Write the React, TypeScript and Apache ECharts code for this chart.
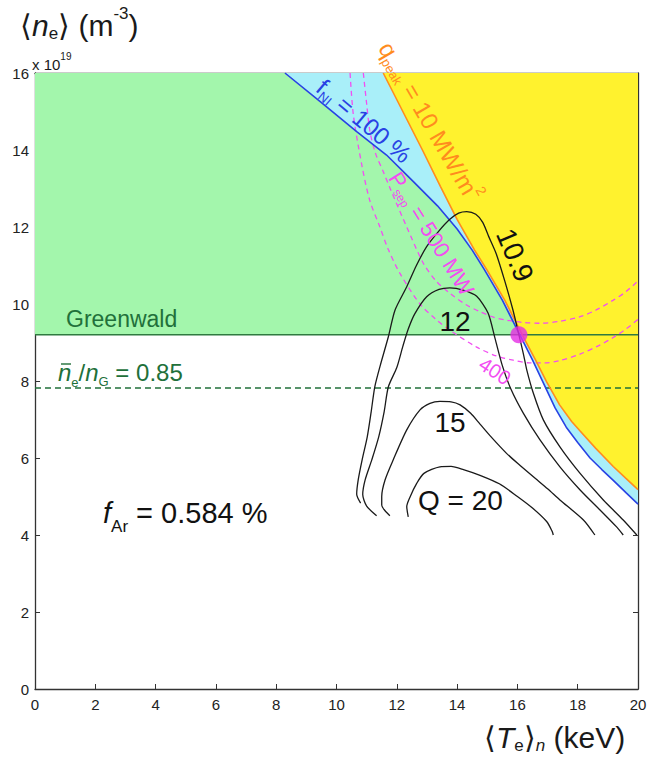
import React, { useEffect, useRef } from "react";
import * as echarts from "echarts";

const FONT = "'Liberation Sans', Arial, Helvetica, sans-serif";

// axes
const xMin = 0;
const xMax = 20;
const yMin = 0;
const yMax = 16;
const tickStep = 2;

// horizontal density limits (10^19 m^-3)
const greenwaldDensity = 9.2;
const density085 = 7.82;
const operatingPoint: [number, number] = [16.05, 9.2];

// f_NI = 100 % boundary
const fNI100: [number, number][] = [
  [8.29, 16.0], [9.45, 15.26], [10.67, 14.48], [11.66, 13.87], [12.55, 13.18],
  [13.35, 12.55], [14.0, 11.95], [14.5, 11.4], [14.9, 10.9], [15.5, 10.1],
  [16.08, 9.2], [16.5, 8.55], [16.86, 7.95], [17.25, 7.3], [17.62, 6.8],
  [18.0, 6.4], [18.41, 6.0], [18.8, 5.7], [19.18, 5.42], [19.6, 5.1], [20.0, 4.8],
];

// q_peak = 10 MW/m^2 boundary
const qPeak10: [number, number][] = [
  [11.55, 16.0], [12.2, 15.0], [12.85, 14.0], [13.45, 13.05], [14.0, 12.2],
  [14.58, 11.4], [14.98, 10.9], [15.58, 10.1], [16.16, 9.2], [16.6, 8.55],
  [16.97, 7.98], [17.4, 7.38], [17.8, 6.95], [18.08, 6.7], [18.6, 6.25],
  [19.18, 5.78], [19.6, 5.47], [20.0, 5.18],
];

// P_sep contours (MW)
const pSep500: [number, number][] = [
  [10.89, 16.0], [11.0, 15.2], [11.11, 14.48], [11.3, 13.9], [11.55, 13.44],
  [11.8, 12.96], [12.33, 12.0], [12.88, 11.06], [13.3, 10.6], [13.76, 10.28],
  [14.3, 9.98], [14.76, 9.8], [15.2, 9.66], [15.64, 9.58], [16.2, 9.52],
  [16.75, 9.5], [17.4, 9.55], [18.08, 9.67], [18.6, 9.84], [19.18, 10.1],
  [19.6, 10.32], [20.0, 10.6],
];
const pSep400: [number, number][] = [
  [10.45, 16.0], [10.56, 14.91], [10.84, 13.61], [11.1, 12.7], [11.44, 12.0],
  [11.7, 11.45], [12.1, 10.8], [12.77, 10.0], [13.3, 9.6], [13.76, 9.32],
  [14.65, 8.88], [15.3, 8.65], [15.86, 8.54], [16.4, 8.47], [16.9, 8.47],
  [17.4, 8.53], [18.08, 8.7], [18.7, 8.92], [19.18, 9.13], [19.6, 9.35], [20.0, 9.6],
];

// Q contours
const q109: [number, number][] = [
  [10.8, 4.83], [10.67, 5.06], [10.72, 5.43], [10.85, 5.95], [11.02, 6.55],
  [11.15, 7.2], [11.27, 7.85], [11.45, 8.4], [11.72, 9.15], [11.94, 9.84],
  [12.33, 10.45], [12.65, 11.0], [12.99, 11.49], [13.4, 11.9], [13.76, 12.2],
  [14.05, 12.36], [14.32, 12.4], [14.62, 12.33], [14.85, 12.12], [15.05, 11.75],
  [15.3, 11.3], [15.58, 10.6], [15.85, 9.85], [16.05, 9.2], [16.2, 8.7],
  [16.31, 8.29], [16.53, 7.68], [16.86, 6.99], [17.41, 6.29], [18.08, 5.6],
  [18.85, 4.91], [19.51, 4.39], [19.96, 4.0],
];
const q12: [number, number][] = [
  [11.33, 4.5], [11.0, 4.75], [10.87, 5.05], [10.95, 5.43], [11.17, 5.95],
  [11.4, 6.55], [11.58, 7.2], [11.72, 7.85], [12.0, 8.35], [12.2, 8.9],
  [12.38, 9.35], [12.6, 9.75], [12.99, 10.19], [13.4, 10.38], [13.76, 10.42],
  [14.2, 10.36], [14.65, 10.2], [15.03, 9.76], [15.26, 9.1], [15.5, 8.4],
  [15.78, 7.8], [16.2, 7.16], [16.75, 6.47], [17.41, 5.77], [18.08, 5.17],
  [18.74, 4.65], [19.29, 4.21], [19.51, 4.0],
];
const q15: [number, number][] = [
  [11.77, 4.5], [11.5, 4.78], [11.5, 5.0], [11.61, 5.43], [11.88, 5.95],
  [12.33, 6.73], [12.77, 7.25], [13.1, 7.42], [13.43, 7.47], [13.8, 7.46],
  [14.1, 7.38], [14.45, 7.16], [14.76, 6.88], [15.09, 6.58], [15.64, 6.12],
  [16.1, 5.8], [16.53, 5.51], [17.0, 5.2], [17.41, 4.91], [18.19, 4.39], [18.57, 4.0],
];
const q20: [number, number][] = [
  [12.38, 4.47], [12.33, 4.74], [12.44, 4.99], [12.66, 5.34], [12.9, 5.6],
  [13.43, 5.77], [13.8, 5.78], [14.21, 5.7], [14.76, 5.55], [15.4, 5.33],
  [16.0, 5.0], [16.5, 4.7], [16.97, 4.35], [17.15, 4.1], [17.19, 4.0],
];

const COL = {
  green: "#a3f6ac",
  cyan: "#a9eff9",
  yellow: "#fff22e",
  blue: "#2842e4",
  orange: "#ff8c1e",
  magenta: "#f24ef2",
  dot: "#e52de5",
  gwLine: "#2f7a40",
  gwText: "#21703a",
  black: "#1a1a1a",
  axis: "#333333",
};

let measureCtx: CanvasRenderingContext2D | null = null;
function textWidth(t: string, size: number, italic: boolean): number {
  if (!measureCtx) measureCtx = document.createElement("canvas").getContext("2d");
  if (!measureCtx) return t.length * size * 0.55;
  measureCtx.font = `${italic ? "italic " : ""}${size}px ${FONT}`;
  return measureCtx.measureText(t).width;
}

type Piece = { t: string; s: number; i?: boolean; dy?: number; dx?: number };

function runLabel(x: number, y: number, rotDeg: number, pieces: Piece[], color: string) {
  let cx = 0;
  const children = pieces.map((p) => {
    cx += p.dx ?? 0;
    const el = {
      type: "text",
      x: cx,
      y: p.dy ?? 0,
      z: 100,
      silent: true,
      style: {
        text: p.t,
        fill: color,
        fontSize: p.s,
        fontFamily: FONT,
        fontStyle: p.i ? "italic" : "normal",
        align: "left",
        verticalAlign: "middle",
      },
    };
    cx += textWidth(p.t, p.s, !!p.i);
    return el;
  });
  return { type: "group", x, y, rotation: (rotDeg * Math.PI) / 180, z: 100, children };
}

function centerText(x: number, y: number, rotDeg: number, text: string, size: number, color: string) {
  return {
    type: "text",
    x,
    y,
    rotation: (rotDeg * Math.PI) / 180,
    z: 100,
    silent: true,
    style: { text, fill: color, fontSize: size, fontFamily: FONT, align: "center", verticalAlign: "middle" },
  };
}

function polygonSeries(name: string, pts: [number, number][], color: string) {
  return {
    type: "custom",
    name,
    coordinateSystem: "cartesian2d",
    data: [[0, 0]],
    silent: true,
    z: 1,
    renderItem: (_params: any, api: any) => ({
      type: "polygon",
      shape: { points: pts.map((p) => api.coord(p)) },
      style: { fill: color, stroke: null },
    }),
  };
}

function lineSeries(name: string, data: [number, number][], color: string, width: number, type: any, smooth: number | boolean, z = 3) {
  return {
    type: "line",
    name,
    data,
    showSymbol: false,
    symbol: "none",
    smooth,
    silent: true,
    z,
    lineStyle: { color, width, type },
  };
}

function axisCommon(show: boolean, margin: number) {
  return {
    type: "value",
    splitLine: { show: false },
    axisLine: { show: true, onZero: false, lineStyle: { color: COL.axis, width: 1.3 } },
    axisTick: { show: true, inside: true, length: 5, lineStyle: { color: COL.axis, width: 1 } },
    axisLabel: { show, margin, fontSize: 15, color: "#222", fontFamily: FONT },
  };
}

export default function App() {
  const ref = useRef<HTMLDivElement>(null);

  useEffect(() => {
    if (!ref.current) return;
    const chart = echarts.init(ref.current, undefined, { renderer: "svg" });

    const greenPoly: [number, number][] = [
      [xMin, yMax],
      ...fNI100.filter((p) => p[1] >= greenwaldDensity),
      [xMin, greenwaldDensity],
    ];
    const cyanPoly: [number, number][] = [...fNI100, ...[...qPeak10].reverse()];
    const yellowPoly: [number, number][] = [...qPeak10, [xMax, yMax]];

    const graphics: any[] = [
      // y axis title
      runLabel(20, 25, 0, [
        { t: "⟨", s: 30 },
        { t: "n", s: 30, i: true },
        { t: "e", s: 17, dy: 8 },
        { t: "⟩", s: 30 },
        { t: " (m", s: 30 },
        { t: "-3", s: 17, dy: -12 },
        { t: ")", s: 30 },
      ], "#1a1a1a"),
      runLabel(32, 64, 0, [
        { t: "x 10", s: 15 },
        { t: "19", s: 10, dy: -8 },
      ], "#1a1a1a"),
      // x axis title
      runLabel(484, 737, 0, [
        { t: "⟨", s: 30 },
        { t: "T", s: 30, i: true },
        { t: "e", s: 17, dy: 8 },
        { t: "⟩", s: 30 },
        { t: "n", s: 17, i: true, dy: 8 },
        { t: " (keV)", s: 30 },
      ], "#1a1a1a"),
      // Greenwald
      runLabel(66, 319, 0, [{ t: "Greenwald", s: 23 }], COL.gwText),
      runLabel(58, 372, 0, [
        { t: "n", s: 24, i: true },
        { t: "e", s: 13, dy: 10 },
        { t: "/", s: 24 },
        { t: "n", s: 24, i: true },
        { t: "G", s: 13, dy: 9 },
        { t: " = 0.85", s: 24 },
      ], COL.gwText),
      {
        type: "line",
        z: 100,
        silent: true,
        shape: { x1: 61, y1: 364, x2: 71, y2: 364 },
        style: { stroke: COL.gwText, lineWidth: 1.4 },
      },
      // f_Ar
      runLabel(103, 513, 0, [
        { t: "f", s: 29, i: true },
        { t: "Ar", s: 17, dy: 13 },
        { t: " = 0.584 %", s: 29 },
      ], "#111"),
      // Q labels
      runLabel(418, 500, 0, [{ t: "Q = 20", s: 28 }], "#111"),
      centerText(450, 422, 0, "15", 28, "#111"),
      centerText(455, 321, 0, "12", 28, "#111"),
      centerText(515, 255, -67, "10.9", 28, "#111"),
      // boundary labels
      runLabel(320, 84, -40, [
        { t: "f", s: 24 },
        { t: "NI", s: 13, dy: 8 },
        { t: " = 100 %", s: 24 },
      ], COL.blue),
      runLabel(385, 44, -60, [
        { t: "q", s: 24 },
        { t: "peak", s: 13, dy: 8 },
        { t: " = 10 MW/m", s: 24 },
        { t: "2", s: 14, dy: -10 },
      ], COL.orange),
      runLabel(394, 174, -58, [
        { t: "P", s: 22 },
        { t: "sep", s: 12, dy: 7 },
        { t: " = 500 MW", s: 22 },
      ], COL.magenta),
      centerText(495, 371, -33, "400", 20, COL.magenta),
    ];

    const option: any = {
      animation: false,
      backgroundColor: "#ffffff",
      textStyle: { fontFamily: FONT },
      grid: { left: 35, right: 12, top: 73, bottom: 68, containLabel: false, outerBoundsMode: "none" },
      xAxis: [
        { ...axisCommon(true, 8), min: xMin, max: xMax, interval: tickStep, position: "bottom" },
        { ...axisCommon(false, 8), min: xMin, max: xMax, interval: tickStep, position: "top" },
      ],
      yAxis: [
        { ...axisCommon(true, 6), min: yMin, max: yMax, interval: tickStep, position: "left" },
        { ...axisCommon(false, 6), min: yMin, max: yMax, interval: tickStep, position: "right" },
      ],
      series: [
        polygonSeries("green", greenPoly, COL.green),
        polygonSeries("cyan", cyanPoly, COL.cyan),
        polygonSeries("yellow", yellowPoly, COL.yellow),
        lineSeries("Greenwald", [[xMin, greenwaldDensity], [xMax, greenwaldDensity]], COL.gwLine, 1.5, "solid", false),
        lineSeries("0.85 nG", [[xMin, density085], [xMax, density085]], COL.gwText, 1.5, [6, 4], false),
        lineSeries("Psep 500", pSep500, COL.magenta, 1.3, [5, 4], 0.3),
        lineSeries("Psep 400", pSep400, COL.magenta, 1.3, [5, 4], 0.3),
        lineSeries("qpeak", qPeak10, COL.orange, 1.6, "solid", false, 4),
        lineSeries("fNI", fNI100, COL.blue, 1.6, "solid", false, 5),
        lineSeries("Q10.9", q109, COL.black, 1.3, "solid", 0.25, 6),
        lineSeries("Q12", q12, COL.black, 1.3, "solid", 0.25, 6),
        lineSeries("Q15", q15, COL.black, 1.3, "solid", 0.25, 6),
        lineSeries("Q20", q20, COL.black, 1.3, "solid", 0.25, 6),
        {
          type: "scatter",
          name: "operating point",
          data: [operatingPoint],
          symbol: "circle",
          symbolSize: 17,
          itemStyle: { color: COL.dot },
          silent: true,
          z: 10,
        },
      ],
      graphic: graphics,
    };

    chart.setOption(option);
    return () => chart.dispose();
  }, []);

  return (
    <div
      ref={ref}
      style={{ position: "fixed", left: 0, top: 0, width: 650, height: 757, background: "#fff" }}
    />
  );
}
